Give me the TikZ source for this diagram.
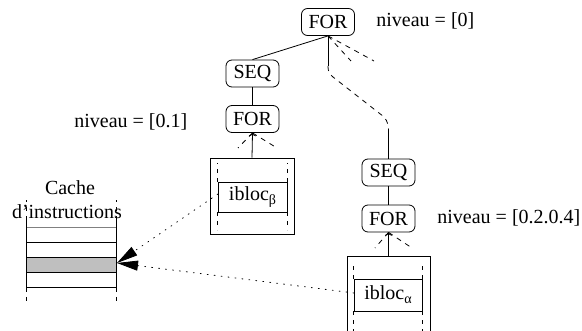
\documentclass[tikz,border=0pt]{standalone}
\usepackage{fontspec}
\setmainfont{Liberation Serif}
\usetikzlibrary{arrows.meta}
\newcommand\mysub[1]{\raisebox{-4pt}{\fontsize{14}{14}\selectfont #1}}
\begin{document}
\begin{tikzpicture}[x=1pt,y=-1pt, line width=0.8pt, font=\fontsize{20}{24}\selectfont,
 ctrl/.style={draw, rounded corners=6pt, minimum width=53pt, minimum height=27pt, inner sep=0pt},
 ib/.style={draw, minimum width=69pt, minimum height=30pt, inner sep=0pt},
 lbl/.style={anchor=west, inner sep=0pt},
 dsh/.style={dash pattern=on 4pt off 5pt},
 fan/.style={dash pattern=on 5pt off 5pt},
 dots/.style={dash pattern=on 1pt off 6pt, line cap=round},
 big/.style={-{Triangle[length=21pt,width=10pt]}}]
\useasboundingbox (0,0) rectangle (582,331);

% control nodes
\node[ctrl] (forA) at (328,22) {FOR};
\node[ctrl] (seqB) at (252.5,73.5) {SEQ};
\node[ctrl] (forB) at (252.5,119) {FOR};
\node[ctrl] (seqC) at (388.5,172.5) {SEQ};
\node[ctrl] (forC) at (388.5,218.5) {FOR};

% labels
\node[lbl] (nivA) at (376,21) {niveau = [0]};
\node[lbl] (nivB) at (74,122) {niveau = [0.1]};
\node[lbl] (nivC) at (437,218) {niveau = [0.2.0.4]};

% tree edges
\draw (forA.south) -- (seqB.north);
\draw (seqB.south) -- (forB.north);
\draw (seqC.south) -- (forC.north);
\draw[fan] (forA.south) -- (351,61);
\draw[fan] (forA.south) -- (374,61);
\coordinate (bendA) at (328,66);
\coordinate (bendB) at (388.5,130);
\draw (forA.south) -- (bendA);
\draw[fan] (bendA) .. controls (328,71) and (329,74) .. (333,77) -- (379,113)
  .. controls (386,118) and (388.5,122) .. (bendB);
\draw (bendB) -- (seqC.north);

% block beta
\node[draw, minimum width=84pt, minimum height=76pt, inner sep=0pt] (outB) at (252,196) {};
\node[ib] (ibB) at (252.5,197) {ibloc\mysub{β}};
\draw[dsh] (ibB.north west) -- ++(0,-19);
\draw[dsh] (ibB.north east) -- ++(0,-19);
\draw[dsh] (ibB.south west) -- ++(0,18);
\draw[dsh] (ibB.south east) -- ++(0,18);
\draw[->] (outB.north) -- (forB.south);
\draw[fan] (forB.south) -- (238,148);
\draw[fan] (forB.south) -- (277,148);

% block alpha
\coordinate (outAtop) at (388.5,256);
\draw (347,331) -- (347,256) -- (430,256) -- (430,331);
\node[ib, minimum width=68pt, minimum height=32pt] (ibA) at (388,295) {ibloc\mysub{α}};
\draw[dsh] (ibA.north west) -- ++(0,-17);
\draw[dsh] (ibA.north east) -- ++(0,-17);
\draw[dsh] (ibA.south west) -- ++(0,22);
\draw[dsh] (ibA.south east) -- ++(0,22);
\draw[->] (outAtop) -- (forC.south);
\draw[fan] (forC.south) -- (375,248);
\draw[fan] (forC.south) -- (412,248);

% instruction cache
\node[inner sep=0pt] (cacheT) at (70,188) {Cache};
\node[inner sep=0pt] (cacheD) at (67,212) {d'instructions};
\fill[gray!50] (26,257) rectangle (116,272);
\draw[gray] (26,227) -- (116,227);
\foreach \yy in {242,257,272,287} \draw (26,\yy) -- (116,\yy);
\draw (26,220) -- (26,288);
\draw (116,220) -- (116,288);
\draw[dsh] (26,220) -- (26,200);
\draw[dsh] (116,220) -- (116,200);
\draw[dsh] (26,288) -- (26,303);
\draw[dsh] (116,288) -- (116,303);
\coordinate (tip) at (117,263);

% dotted pointers
\draw[dots, big] (218,194) -- (tip);
\draw[dots, big] (354,293) -- (tip);
\end{tikzpicture}
\end{document}
